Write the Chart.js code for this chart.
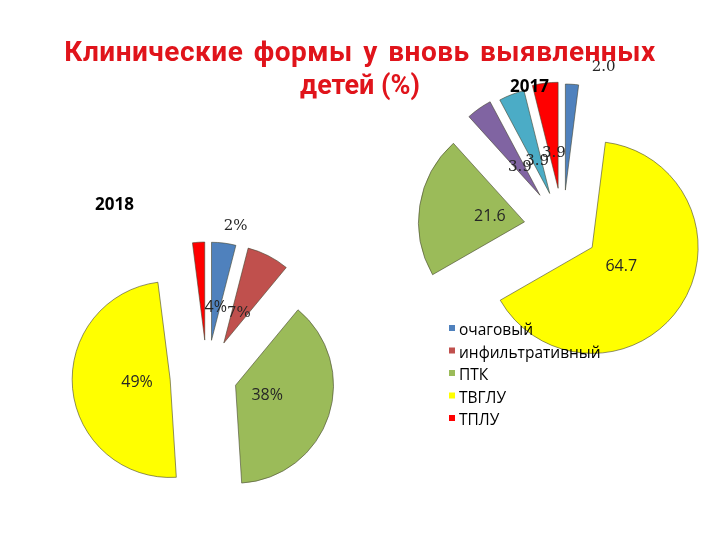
<!DOCTYPE html>
<html>
<head>
<meta charset="utf-8">
<script src="https://cdn.jsdelivr.net/npm/chart.js@4"></script>
<style>
  body { margin: 0; background: #fff; }
  #wrap { position: relative; width: 720px; height: 540px; overflow: hidden; }
  canvas { position: absolute; left: 0; top: 0; }
  .title { position: absolute; left: 0; top: 35px; width: 720px; text-align: center;
           color: #e0141b; font: bold 27px Roboto, sans-serif; line-height: 33px; }
  .title .l1 { font-size: 28px; letter-spacing: 0.5px; word-spacing: 3px; }
  .year { position: absolute; font: bold 17px "Open Sans", sans-serif; color: #000; line-height: 20px; }
</style>
</head>
<body>
<div id="wrap">
  <canvas id="pie2017" width="720" height="540"></canvas>
  <canvas id="pie2018" width="720" height="540"></canvas>
  <div class="title"><span class="l1">Клинические формы у вновь выявленных</span><br>детей (%)</div>
  <div class="year" style="left:95px; top:194px">2018</div>
  <div class="year" style="left:510px; top:76px">2017</div>
</div>
<script>
// 2018 (left pie, the legend belongs to it)
const labels2018 = ['очаговый', 'инфильтративный', 'ПТК', 'ТВГЛУ', 'ТПЛУ'];
const values2018 = [4, 7, 38, 49, 2];
const colors2018 = ['#4F81BD', '#C0504D', '#9BBB59', '#FFFF00', '#FF0000'];
const explode2018 = [36, 37, 30, 37, 36]; // px each slice is pulled out

// 2017 (right pie)
const labels2017 = ['очаговый', 'ТВГЛУ', 'ПТК', '', '', 'ТПЛУ'];
const values2017 = [2.0, 64.7, 21.6, 3.9, 3.9, 3.9];
const colors2017 = ['#4F81BD', '#FFFF00', '#9BBB59', '#8064A2', '#4BACC6', '#FF0000'];
const explode2017 = [38, 35, 39, 40, 37, 40];

const SANS = '16px "Open Sans"';
const SERIF = '15px "DejaVu Serif"';

// chart.js grows an offset arc by offset/4 * (1 - sin(angle)) and trims its angle by that / PI;
// undo both so every slice keeps one radius and its true angle
const sameRadius = {
    id: 'sameRadius',
    afterDatasetsUpdate(chart, args, opts) {
        chart.getDatasetMeta(0).data.forEach(arc => {
            const fix = 1 - Math.sin(Math.min(Math.PI, arc.circumference));
            const grow = (arc.options.offset / 4) * fix;
            arc.outerRadius = opts.radius - grow;
            const trim = grow / Math.PI / opts.radius;
            arc.startAngle -= trim / 2;
            arc.endAngle += trim / 2;
        });
    }
};

// value labels at the middle of each (pulled out) slice
const sliceLabels = {
    id: 'sliceLabels',
    afterDatasetsDraw(chart, args, opts) {
        const ctx = chart.ctx;
        const meta = chart.getDatasetMeta(0);
        const values = chart.data.datasets[0].data;
        ctx.save();
        ctx.textAlign = 'center';
        ctx.textBaseline = 'middle';
        ctx.fillStyle = '#262626';
        meta.data.forEach((arc, i) => {
            const mid = (arc.startAngle + arc.endAngle) / 2;
            const d = arc.options.offset / 4 + opts.labelRadius * opts.radius;
            let x = arc.x + Math.cos(mid) * d;
            let y = arc.y + Math.sin(mid) * d;
            const n = opts.nudge[i];
            if (n) { x += n[0]; y += n[1]; }
            ctx.font = opts.fonts[i];
            ctx.fillText(opts.format(values[i]), x, y);
        });
        ctx.restore();
    }
};

// small square legend drawn over the right pie
const boxLegend = {
    id: 'boxLegend',
    afterDraw(chart, args, opts) {
        if (!opts.show) return;
        const ctx = chart.ctx;
        const ds = chart.data.datasets[0];
        ctx.save();
        ctx.font = opts.font;
        ctx.textBaseline = 'alphabetic';
        chart.data.labels.forEach((lab, i) => {
            const y = opts.y + i * opts.lineHeight;
            ctx.fillStyle = ds.backgroundColor[i];
            ctx.fillRect(opts.x, y - 10, 6, 6);
            ctx.fillStyle = '#000';
            ctx.fillText(lab, opts.x + 10, y);
        });
        ctx.restore();
    }
};

function makePie(id, labels, values, colors, explode, radius, padding, labelOpts, legendOpts) {
    const ctx = document.getElementById(id).getContext('2d');
    return new Chart(ctx, {
        type: 'pie',
        data: {
            labels: labels,
            datasets: [{
                data: values,
                backgroundColor: colors,
                borderColor: 'rgba(70, 70, 50, 0.6)',
                borderWidth: 1,
                offset: explode.map(v => v * 4) // arc moves by offset / 4
            }]
        },
        options: {
            responsive: false,
            animation: false,
            events: [],
            radius: radius,
            layout: { padding: padding },
            plugins: {
                legend: { display: false },
                tooltip: { enabled: false },
                title: { display: false },
                sameRadius: { radius: radius },
                sliceLabels: Object.assign({ radius: radius }, labelOpts),
                boxLegend: legendOpts
            }
        },
        plugins: [sameRadius, sliceLabels, boxLegend]
    });
}

makePie('pie2017', labels2017, values2017, colors2017, explode2017, 106,
    { left: 406, right: 0, top: 0, bottom: 84 },
    {
        labelRadius: 0.33,
        format: v => v.toFixed(1),
        fonts: [SERIF, SANS, SANS, SERIF, SERIF, SERIF],
        nudge: { 0: [36, -88] }
    },
    { show: false });

makePie('pie2018', labels2018, values2018, colors2018, explode2018, 98,
    { left: 0, right: 306, top: 212, bottom: 0 },
    {
        labelRadius: 0.34,
        format: v => v + '%',
        fonts: [SANS, SERIF, SANS, SANS, SERIF],
        nudge: { 4: [33, -81] }
    },
    { show: true, x: 449, y: 335, lineHeight: 22.5, font: '15.5px "Open Sans"' });
</script>
</body>
</html>
